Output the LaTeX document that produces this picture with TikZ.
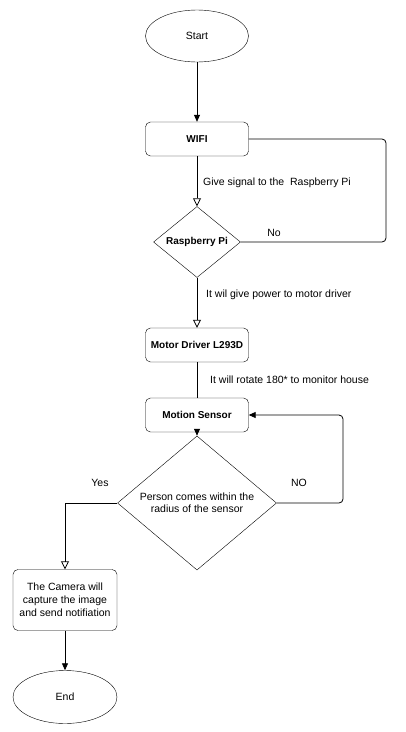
\documentclass[tikz,border=0pt]{standalone}
\usepackage{fontspec}
\setmainfont{Liberation Sans}
\usetikzlibrary{positioning}
\usetikzlibrary{shapes.geometric}
\usetikzlibrary{arrows.meta}

\begin{document}
\begin{tikzpicture}[x=1pt,y=-1pt]

          \tikzstyle{terminalNode} = [draw, ellipse, minimum width=103pt, minimum height=52pt, inner sep=0pt, font=\fontsize{10.5}{12}\selectfont];
          \tikzstyle{stepNode} = [draw, rounded corners=5pt, minimum width=103pt, minimum height=34pt, inner sep=1pt, font=\fontsize{10}{12}\selectfont\bfseries];
          \tikzstyle{textStepNode} = [draw, rounded corners=5pt, minimum width=104pt, minimum height=61pt, inner sep=1pt, align=center, font=\fontsize{10.5}{13}\selectfont];
          \tikzstyle{choiceNode} = [draw, diamond, inner sep=0pt, align=center, font=\fontsize{10.5}{12}\selectfont];
          \tikzstyle{labelNode} = [inner sep=0pt, font=\fontsize{10.5}{12}\selectfont];

          \tikzstyle{solidEdge} = [line width=0.8pt, -{Triangle[length=7pt,width=6pt]}];
          \tikzstyle{openEdge} = [line width=0.8pt, -{Triangle[open,length=8pt,width=8pt]}];
          \tikzstyle{plainEdge} = [line width=0.8pt];

          \useasboundingbox (0,0) rectangle (406,732);

          \node[terminalNode] (start) at (197,36) {Start};
          \node[stepNode] (wifi) at (197,139) {WIFI};
          \node[choiceNode, minimum width=87pt, minimum height=68pt, font=\fontsize{10}{12}\selectfont\bfseries] (rpi) at (197,242) {Raspberry Pi};
          \node[stepNode] (motor) at (197,345) {Motor Driver L293D};
          \node[stepNode] (motion) at (197,415) {Motion Sensor};
          \node[choiceNode, minimum width=159pt, minimum height=90pt] (person) at (197,503) {Person comes within the\\radius of the sensor};
          \node[textStepNode] (camera) at (65,600) {The Camera will\\capture the image\\and send notifiation};
          \node[terminalNode, minimum width=104pt, minimum height=53pt] (end) at (65,697) {End};

          \node[labelNode, anchor=west] (signal) at (203,183) {Give signal to the\ \ Raspberry Pi};
          \node[labelNode] (no) at (274,233) {No};
          \node[labelNode, anchor=west] (power) at (206,295) {It wil give power to motor driver};
          \node[labelNode, anchor=west] (rotate) at (210,380) {It will rotate 180* to monitor house};
          \node[labelNode] (yes) at (100,483) {Yes};
          \node[labelNode] (NO) at (299,483) {NO};

          \draw[solidEdge] (start) -- (wifi);
          \draw[openEdge] (wifi) -- (rpi);
          \draw[plainEdge, rounded corners=4pt] (wifi.east) -| (386,242) -- (rpi.east);
          \draw[openEdge] (rpi) -- (motor);
          \draw[plainEdge] (motor) -- (motion);
          \draw[solidEdge] (motion) -- (person);
          \draw[solidEdge, rounded corners=4pt] (person.east) -| (343,470) |- (motion.east);
          \draw[openEdge] (person.west) -| (camera.north);
          \draw[solidEdge] (camera) -- (end);
        \end{tikzpicture}
\end{document}
